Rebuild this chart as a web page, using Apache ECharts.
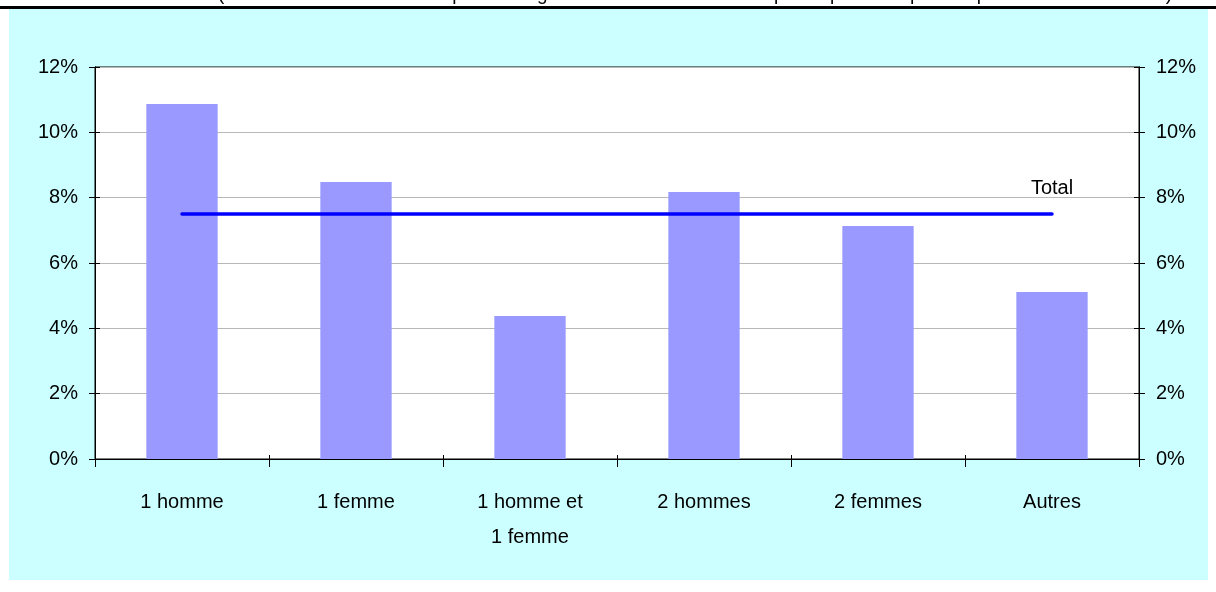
<!DOCTYPE html>
<html>
<head>
<meta charset="utf-8">
<script src="https://cdn.jsdelivr.net/npm/echarts@6/dist/echarts.min.js"></script>
<style>
html,body{margin:0;padding:0;background:#ffffff;}
#chart{width:1216px;height:592px;}
</style>
</head>
<body>
<div id="chart"></div>
<script>
const categories = ['1 homme', '1 femme', '1 homme et\n1 femme', '2 hommes', '2 femmes', 'Autres'];
const barValues = [10.87, 8.48, 4.38, 8.17, 7.13, 5.11];
const totalValues = [7.5, 7.5, 7.5, 7.5, 7.5, 7.5];
const totalLabel = 'Total';
const subtitle = "(nombre de défaillances en pourcentages de l'ensemble des entreprises pour chaque composition de la direction)";
const yMin = 0, yMax = 12, yStep = 2;

const FONT = '"Liberation Sans", Arial, sans-serif';
const chart = echarts.init(document.getElementById('chart'), null, {renderer: 'canvas'});

const valueAxisBase = (pos, showLabel, tickInside, showSplit) => ({
  type: 'value', position: pos, min: yMin, max: yMax, interval: yStep,
  axisLine: {show: true, lineStyle: {color: '#000', width: 1}},
  axisTick: {show: true, inside: tickInside, length: tickInside ? 5 : 6, lineStyle: {color: '#000', width: 1}},
  axisLabel: {show: showLabel, formatter: '{value}%', color: '#000', fontFamily: FONT, fontSize: 20, margin: 17},
  splitLine: {show: showSplit, lineStyle: {color: '#b8b8b8', width: 1}}
});

const catAxisBase = (showLabel, tickInside) => ({
  type: 'category', data: categories, position: 'bottom', boundaryGap: true,
  axisLine: {show: true, lineStyle: {color: '#000', width: 1}},
  axisTick: {show: true, inside: tickInside, length: tickInside ? 4 : 8, alignWithLabel: false, lineStyle: {color: '#000', width: 1}},
  axisLabel: {show: showLabel, color: '#000', fontFamily: FONT, fontSize: 20, lineHeight: 35, margin: 26, interval: 0},
  splitLine: {show: false}
});

const lastIdx = totalValues.length - 1;

chart.setOption({
  animation: false,
  backgroundColor: '#ffffff',
  textStyle: {fontFamily: FONT},
  graphic: [
    {type: 'rect', z: -10, shape: {x: 9, y: 9, width: 1199, height: 571}, style: {fill: '#ccffff'}, silent: true},
    {type: 'text', z: 5, x: 695, y: 4, style: {text: subtitle, fill: '#000', font: '19px ' + FONT, textAlign: 'center', textVerticalAlign: 'bottom'}},
    {type: 'rect', z: 10, shape: {x: 0, y: 6, width: 1216, height: 3}, style: {fill: '#000'}, silent: true}
  ],
  grid: {left: 95, right: 77, top: 67, bottom: 133, show: true, backgroundColor: '#ffffff', borderColor: '#000', borderWidth: 1},
  xAxis: [catAxisBase(true, false), catAxisBase(false, true)],
  yAxis: [
    valueAxisBase('left', true, false, true),
    valueAxisBase('right', true, false, false),
    valueAxisBase('left', false, true, false),
    valueAxisBase('right', false, true, false)
  ],
  series: [
    {
      type: 'bar', xAxisIndex: 0, yAxisIndex: 0, data: barValues, barWidth: '41%',
      itemStyle: {color: '#9999ff'}, z: 2
    },
    {
      type: 'line', xAxisIndex: 0, yAxisIndex: 0, symbol: 'circle', symbolSize: 0.01, showSymbol: true, z: 3,
      lineStyle: {color: '#0000ff', width: 3.5, cap: 'round'},
      itemStyle: {color: '#0000ff', opacity: 0},
      label: {show: false},
      data: totalValues.map((v, i) => i === lastIdx ? {value: v, label: {show: true, formatter: totalLabel, position: 'top', distance: 16, color: '#000', fontSize: 20, fontFamily: FONT, opacity: 1}} : v)
    }
  ]
});
</script>
</body>
</html>
